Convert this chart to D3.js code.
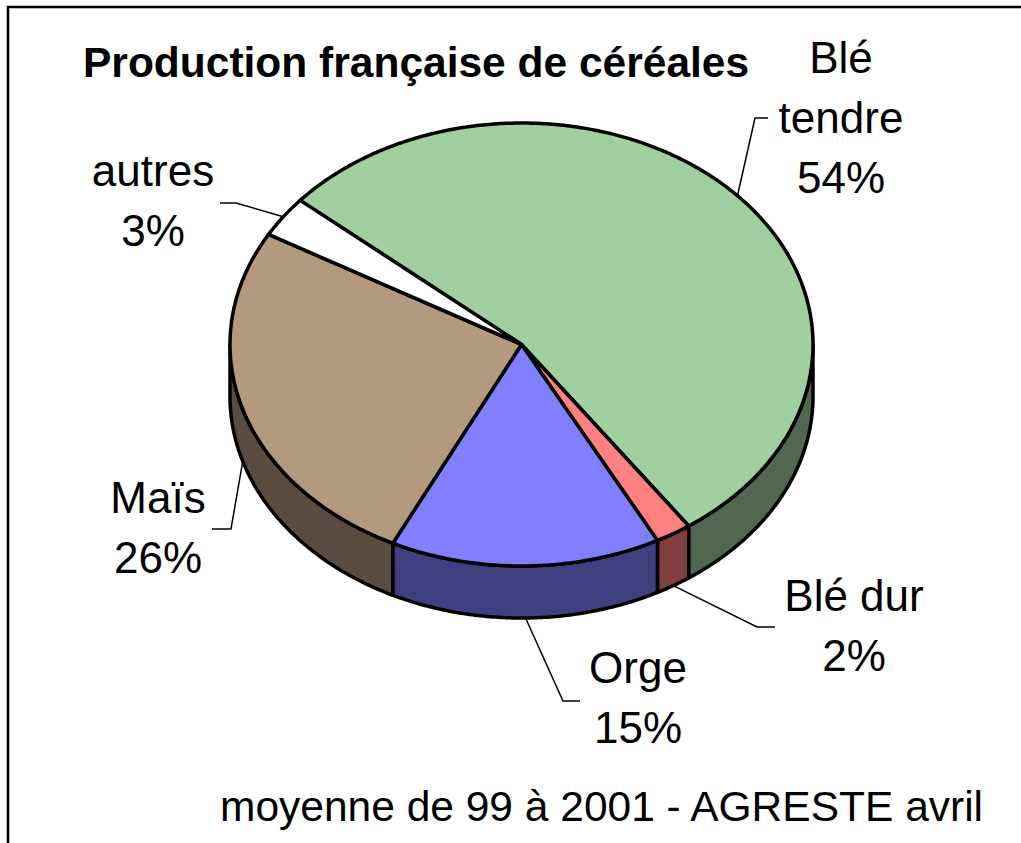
<!DOCTYPE html>
<html>
<head>
<meta charset="utf-8">
<script src="https://cdn.jsdelivr.net/npm/d3@7"></script>
<style>
  body { margin: 0; background: #fff; }
  text { font-family: "Liberation Sans", Arial, sans-serif; fill: #000; }
</style>
</head>
<body>
<div id="chart"></div>
<script>
// data
var categories = ['Blé\ntendre', 'Blé dur', 'Orge', 'Maïs', 'autres'];
var percents = [54, 2, 15, 26, 3];
var topColors = ['#A0D0A0', '#FF8080', '#8080FF', '#B39A7F', '#FFFFFF'];
var sideColors = ['#506850', '#804040', '#404080', '#5A4D40', '#808080'];
var title = 'Production française de céréales';
var source = 'moyenne de 99 à 2001 - AGRESTE avril';

// page layout
var w = 1021;
var h = 843;
var cx = 521.5, cy = 344.5;   // centre of top ellipse
var rx = 291.5, ry = 221.5;   // ellipse radii
var depth = 52;               // thickness of the disc
var firstAngle = -49.4 * Math.PI / 180;

// label positions: first baseline, elbow of leader, end of leader
var labelPos = [
  {x: 841, y: 73, ex: 755, ey: 118, tx: 768},
  {x: 854, y: 611, ex: 757, ey: 627, tx: 775},
  {x: 638, y: 683, ex: 563, ey: 701, tx: 580},
  {x: 158, y: 513, ex: 231, ey: 529, tx: 212},
  {x: 153, y: 186, ex: 236, ey: 203, tx: 220}
];
var lineGap = 60;

var svg = d3.select('#chart')
  .append('svg')
  .attr('width', w)
  .attr('height', h);

// frame (top and left edges only are in view)
svg.append('path')
  .attr('d', 'M8,' + h + 'V7H' + w)
  .attr('fill', 'none')
  .attr('stroke', '#000')
  .attr('stroke-width', 2.5);

var pie = d3.pie()
  .sort(null)
  .startAngle(firstAngle)
  .endAngle(firstAngle + 2 * Math.PI);
var arcs = pie(percents);

function pt(a, dy) {
  return [cx + rx * Math.sin(a), cy - ry * Math.cos(a) + (dy || 0)];
}
function arcPts(a0, a1, dy) {
  var n = Math.max(2, Math.ceil(Math.abs(a1 - a0) / 0.01));
  return d3.range(n + 1).map(function(i) {
    return pt(a0 + (a1 - a0) * i / n, dy);
  });
}
var line = d3.line();

// sides: only the front half (90deg to 270deg) is seen
var sides = [];
arcs.forEach(function(d, i) {
  for (var k = -1; k <= 1; k++) {
    var lo = Math.max(d.startAngle, Math.PI / 2 + 2 * Math.PI * k);
    var hi = Math.min(d.endAngle, 3 * Math.PI / 2 + 2 * Math.PI * k);
    if (hi > lo) sides.push({i: i, a0: lo, a1: hi});
  }
});

svg.selectAll('path.side')
  .data(sides)
  .enter()
  .append('path')
  .attr('class', 'side')
  .attr('d', function(s) {
    var p = arcPts(s.a0, s.a1, 0).concat(arcPts(s.a1, s.a0, depth));
    return line(p) + 'Z';
  })
  .attr('fill', function(s) { return sideColors[s.i]; })
  .attr('stroke', '#000')
  .attr('stroke-width', 3.5)
  .attr('stroke-linejoin', 'round');

// top faces
svg.selectAll('path.top')
  .data(arcs)
  .enter()
  .append('path')
  .attr('class', 'top')
  .attr('d', function(d) {
    return line([[cx, cy]].concat(arcPts(d.startAngle, d.endAngle, 0))) + 'Z';
  })
  .attr('fill', function(d, i) { return topColors[i]; })
  .attr('stroke', '#000')
  .attr('stroke-width', 3.5)
  .attr('stroke-linejoin', 'round');

// leader lines
svg.selectAll('path.leader')
  .data(arcs)
  .enter()
  .append('path')
  .attr('class', 'leader')
  .attr('d', function(d, i) {
    var mid = (d.startAngle + d.endAngle) / 2;
    var front = Math.cos(mid) < 0;
    var a = pt(mid, front ? depth : 0);
    var L = labelPos[i];
    return line([a, [L.ex, L.ey], [L.tx, L.ey]]);
  })
  .attr('fill', 'none')
  .attr('stroke', '#000')
  .attr('stroke-width', 1.5);

// labels
var labels = svg.selectAll('text.label')
  .data(arcs)
  .enter()
  .append('text')
  .attr('class', 'label')
  .attr('text-anchor', 'middle')
  .attr('font-size', 44);

labels.each(function(d, i) {
  var rows = categories[i].split('\n').concat([percents[i] + '%']);
  d3.select(this).selectAll('tspan')
    .data(rows)
    .enter()
    .append('tspan')
    .attr('x', labelPos[i].x)
    .attr('y', function(r, j) { return labelPos[i].y + j * lineGap; })
    .text(function(r) { return r; });
});

// title and source
svg.append('text')
  .attr('x', 83)
  .attr('y', 77)
  .attr('font-size', 42.5)
  .attr('font-weight', 'bold')
  .text(title);

svg.append('text')
  .attr('x', 220)
  .attr('y', 821)
  .attr('font-size', 42.5)
  .text(source);
</script>
</body>
</html>
